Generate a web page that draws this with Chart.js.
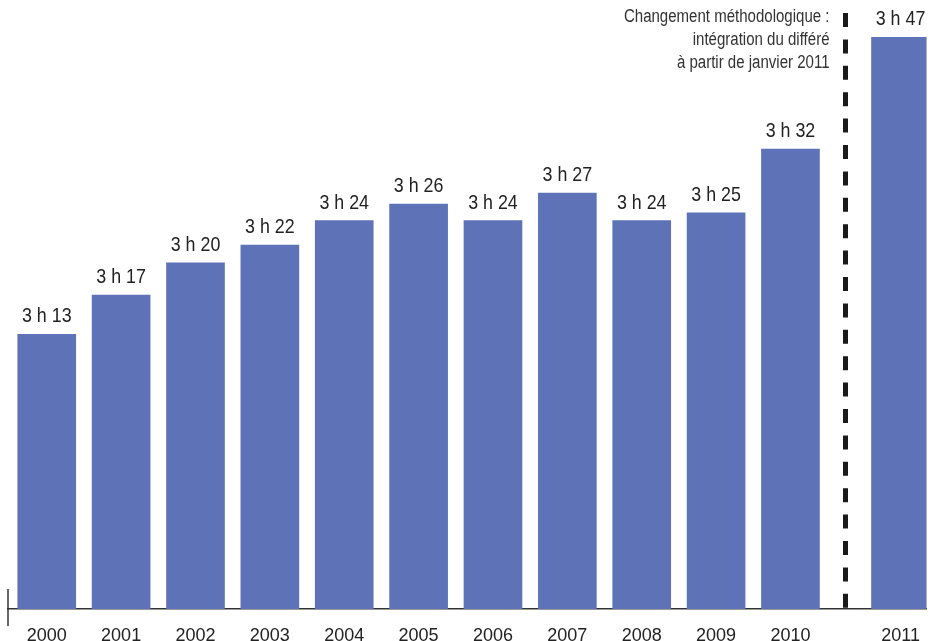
<!DOCTYPE html>
<html>
<head>
<meta charset="utf-8">
<script src="https://cdn.jsdelivr.net/npm/chart.js@4"></script>
<style>
    body { margin: 0; background: #fff; }
    canvas { display: block; }
</style>
</head>
<body>
<canvas id="myChart" width="936" height="641"></canvas>
<script>
/* data */
const years = ['2000', '2001', '2002', '2003', '2004', '2005', '2006', '2007', '2008', '2009', '2010', '2011'];
// minutes per day, as drawn (bar heights)
const minutes = [193.0, 197.0, 200.3, 202.1, 204.6, 206.3, 204.6, 207.4, 204.6, 205.4, 211.9, 223.3];
const valueLabels = ['3 h 13', '3 h 17', '3 h 20', '3 h 22', '3 h 24', '3 h 26', '3 h 24', '3 h 27', '3 h 24', '3 h 25', '3 h 32', '3 h 47'];
const noteLines = ['Changement méthodologique :', 'intégration du différé', 'à partir de janvier 2011'];

/* layout: the year after the method change sits a bit further right */
const breakIndex = 11;
const extraGap = 0.48;
const positions = years.map((y, i) => i >= breakIndex ? i + extraGap : i);

const barColor = '#5d72b7';
const labelFont = '"Liberation Sans", Arial, sans-serif';

// condensed look: squeeze text horizontally
function squeezedText(ctx, text, x, y, sx) {
    ctx.save();
    ctx.translate(x, y);
    ctx.scale(sx, 1);
    ctx.fillText(text, 0, 0);
    ctx.restore();
}

/* labels, dashed break line and small left tick */
const decorPlugin = {
    id: 'decor',
    afterDatasetsDraw(chart) {
        const ctx = chart.ctx;
        const x = chart.scales.x;
        const area = chart.chartArea;
        const meta = chart.getDatasetMeta(0);

        ctx.save();
        ctx.fillStyle = '#222';
        ctx.font = '21px ' + labelFont;
        ctx.textAlign = 'center';
        ctx.textBaseline = 'alphabetic';
        meta.data.forEach((bar, i) => {
            squeezedText(ctx, valueLabels[i], bar.x, bar.y - 12, 0.85);
        });

        // break line between 2010 and 2011
        const breakX = x.getPixelForValue((positions[breakIndex - 1] + positions[breakIndex]) / 2);
        ctx.strokeStyle = '#1a1a1a';
        ctx.lineWidth = 5;
        ctx.setLineDash([14, 12.4]);
        ctx.beginPath();
        ctx.moveTo(breakX, 13);
        ctx.lineTo(breakX, area.bottom - 1);
        ctx.stroke();
        ctx.setLineDash([]);

        // note
        ctx.fillStyle = '#333';
        ctx.font = '18px ' + labelFont;
        ctx.textAlign = 'right';
        noteLines.forEach((line, i) => {
            squeezedText(ctx, line, breakX - 16, 22 + i * 23, 0.835);
        });

        // small tick at the left end of the axis
        ctx.strokeStyle = '#333';
        ctx.lineWidth = 1.5;
        ctx.beginPath();
        ctx.moveTo(area.left, area.bottom - 20);
        ctx.lineTo(area.left, area.bottom + 17);
        ctx.stroke();
        ctx.restore();
    }
};

const ctx = document.getElementById('myChart').getContext('2d');
const myChart = new Chart(ctx, {
    type: 'bar',
    data: {
        datasets: [{
            data: positions.map((p, i) => ({ x: p, y: minutes[i] })),
            backgroundColor: barColor,
            barThickness: 58,
            borderWidth: 0
        }]
    },
    options: {
        responsive: false,
        animation: false,
        layout: { padding: { left: 8, right: 4, top: 0, bottom: 0 } },
        plugins: {
            legend: { display: false },
            tooltip: { enabled: false }
        },
        scales: {
            x: {
                type: 'linear',
                offset: false,
                min: -0.521,
                max: 11.83,
                afterBuildTicks: scale => {
                    scale.ticks = positions.map(p => ({ value: p }));
                },
                afterFit: scale => {
                    scale.height = 32;
                },
                ticks: {
                    autoSkip: false,
                    maxRotation: 0,
                    padding: 16,
                    color: '#222',
                    font: { family: labelFont, size: 18 },
                    callback: (value, index) => years[index]
                },
                grid: { display: false, drawTicks: false },
                border: { display: true, color: '#333', width: 1.5 }
            },
            y: {
                display: false,
                min: 165,
                max: 227.1
            }
        }
    },
    plugins: [decorPlugin]
});
</script>
</body>
</html>
